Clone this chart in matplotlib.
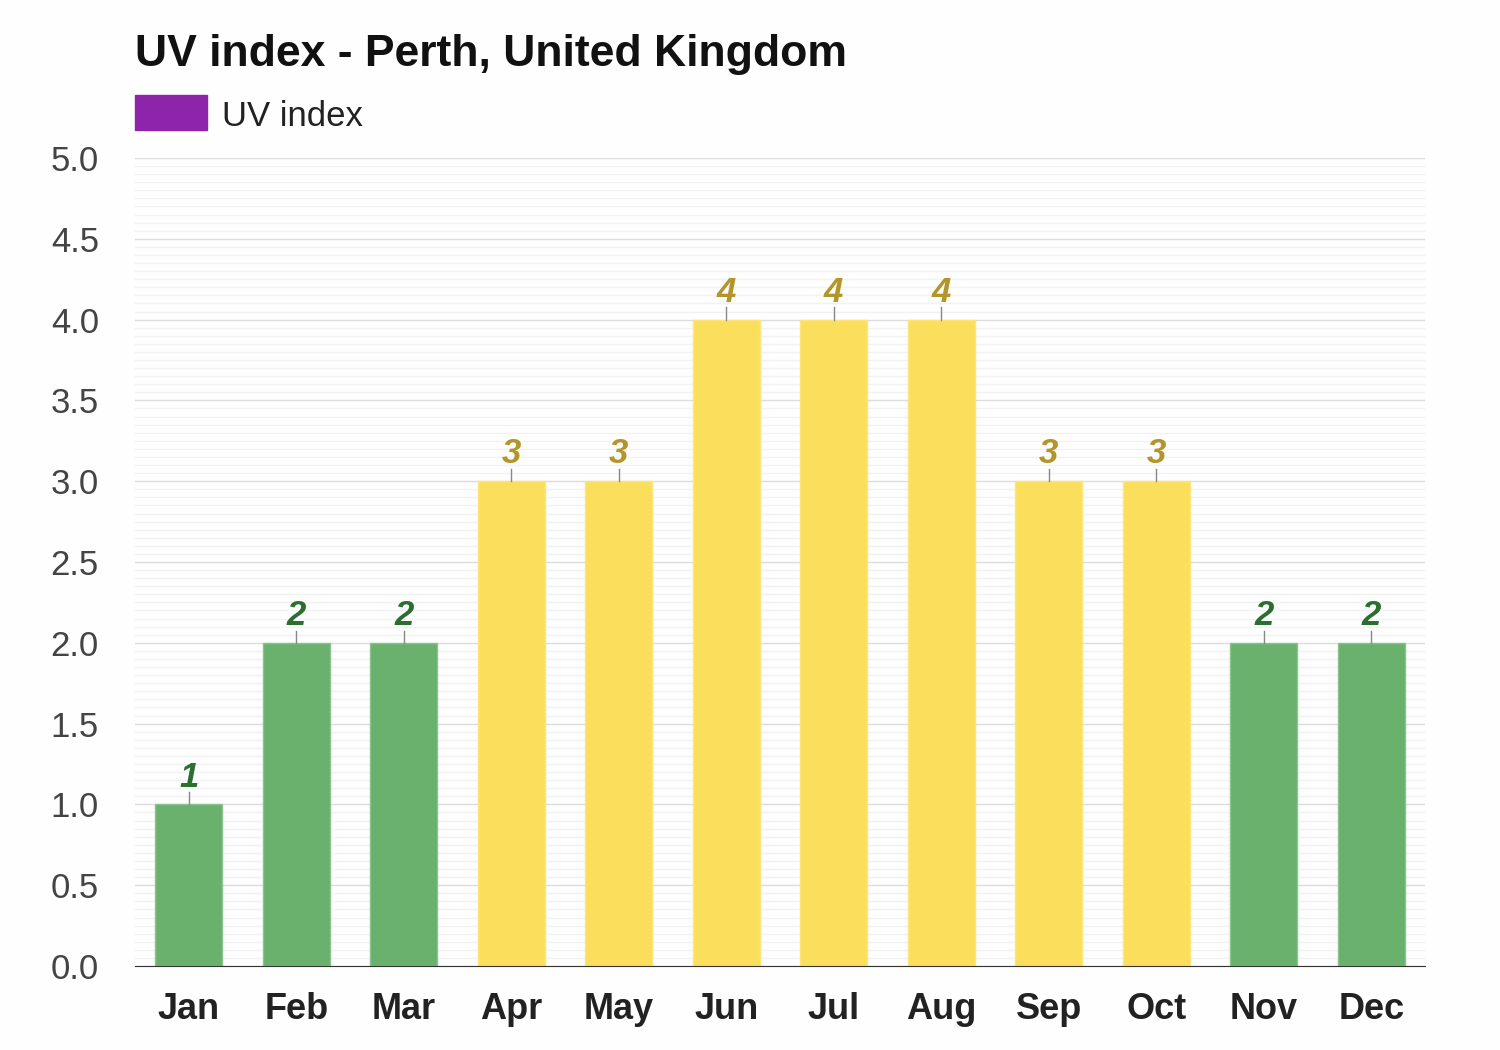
import matplotlib.pyplot as plt
import numpy as np
from matplotlib.patches import Rectangle

months = ["Jan", "Feb", "Mar", "Apr", "May", "Jun", "Jul", "Aug", "Sep", "Oct", "Nov", "Dec"]
uv = [1, 2, 2, 3, 3, 4, 4, 4, 3, 3, 2, 2]

plt.rcParams['font.family'] = ['Liberation Sans', 'DejaVu Sans']

fig = plt.figure(figsize=(15, 10.5), dpi=100)
fig.patch.set_facecolor("#fdfefd")
ax = fig.add_axes([135/1500, 1 - 966/1050, 1290/1500, 808/1050])
ax.set_facecolor("#fdfefd")

x = np.arange(len(months))
bar_col = []
edge_col = []
lab_col = []
for v in uv:
	if v <= 2:
		bar_col.append("#6ab16d")
		edge_col.append("#8cc48e")
		lab_col.append("#2b6e2f")
	else:
		bar_col.append("#fbdf5c")
		edge_col.append("#fde57c")
		lab_col.append("#b4952a")

ax.bar(x, uv, width=0.62, color=bar_col, edgecolor=edge_col, linewidth=1, zorder=3)
for i in range(len(uv)):
	ax.plot([x[i], x[i]], [uv[i], uv[i] + 0.075], color="#888888", lw=1, zorder=3)
	ax.text(x[i], uv[i] + 0.11, str(uv[i]), ha="center", va="baseline", fontsize=25,
		fontweight="bold", fontstyle="italic", color=lab_col[i])

ax.set_xlim(-0.5, 11.5)
ax.set_ylim(0, 5)
ax.set_yticks(np.arange(0, 5.01, 0.5))
ax.set_yticklabels(["%.1f" % t for t in np.arange(0, 5.01, 0.5)], fontsize=25, color="#444444")
ax.set_yticks(np.arange(0, 5.01, 0.05), minor=True)
ax.set_xticks(x)
ax.set_xticklabels(months, fontsize=26, fontweight="bold", color="#222222")
ax.tick_params(axis="y", length=0, pad=26, which="both")
ax.tick_params(axis="x", length=0, pad=19)
ax.grid(axis="y", which="major", color="#dddddd", lw=1, zorder=0)
ax.grid(axis="y", which="minor", color="#f2f2f2", lw=1, zorder=0)
for s in ["top", "right", "left"]:
	ax.spines[s].set_visible(False)
ax.spines["bottom"].set_color("#333333")
ax.spines["bottom"].set_zorder(4)

fig.text(135/1500, 1 - 50/1050, "UV index - Perth, United Kingdom", fontsize=32,
	fontweight="bold", color="#111111", va="center_baseline", ha="left")
fig.patches.append(Rectangle((135/1500, 1 - 130/1050), 72/1500, 35/1050,
	transform=fig.transFigure, color="#8e24aa", figure=fig))
fig.text(222/1500, 1 - 113/1050, "UV index", fontsize=25, color="#222222", va="center_baseline", ha="left")

plt.savefig("out.png", dpi=100, facecolor=fig.get_facecolor())
